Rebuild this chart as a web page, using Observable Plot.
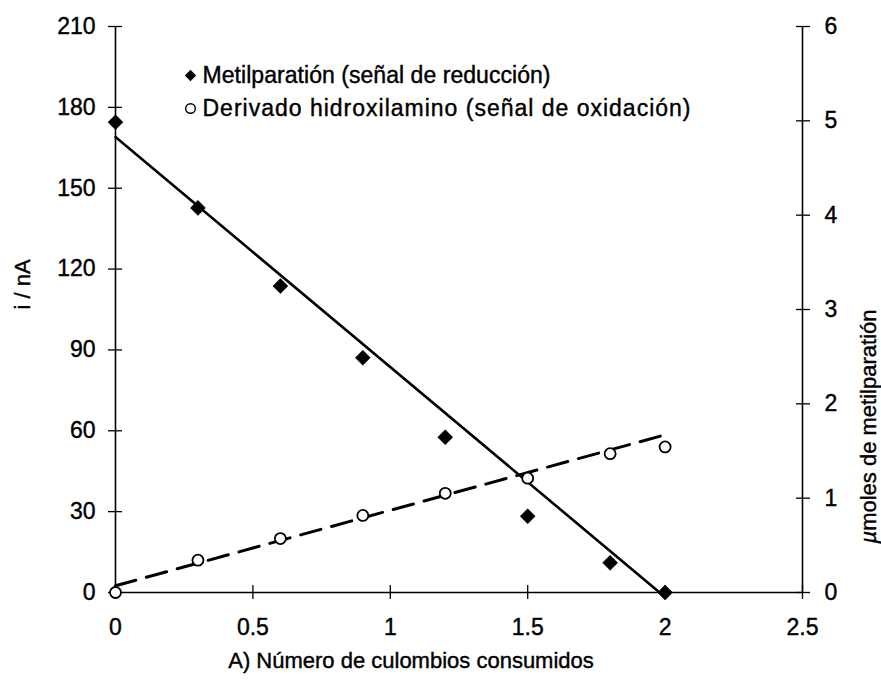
<!DOCTYPE html>
<html><head><meta charset="utf-8">
<script src="https://cdn.jsdelivr.net/npm/d3@7"></script>
<script src="https://cdn.jsdelivr.net/npm/@observablehq/plot@0.6"></script>
<style>html,body{margin:0;padding:0;background:#fff} svg text{stroke:#000;stroke-width:0.4px}</style>
</head><body><div id="chart"></div>
<script>
// Data
const coulombs = [0, 0.3, 0.6, 0.9, 1.2, 1.5, 1.8, 2.0];
const reductionSignal = [174.5, 142.7, 113.7, 87.1, 57.6, 28.3, 11, 0];
const oxidationSignal = [0, 12, 20, 28.6, 36.8, 42.4, 51.5, 54];
const reductionFitX = [0, 1.98];
const reductionFitY = [169, 0];
const oxidationFitX = [0, 2.0];
const oxidationFitY = [2.5, 58.5];
const xTicks = [0, 0.5, 1, 1.5, 2, 2.5];
const yTicks = [0, 30, 60, 90, 120, 150, 180, 210];
const rightTicks = [0, 1, 2, 3, 4, 5, 6];
const nAPerMicromole = 35;
const legendLabels = ["Metilparatión (señal de reducción)", "Derivado hidroxilamino (señal de oxidación)"];
const xTitle = "A) Número de culombios consumidos";
const yTitle = "i / nA";
const rightTitle = "µmoles de metilparatión";

const reduction = coulombs.map((x, i) => ({x, y: reductionSignal[i]}));
const oxidation = coulombs.map((x, i) => ({x, y: oxidationSignal[i]}));
const redFit = reductionFitX.map((x, i) => ({x, y: reductionFitY[i]}));
const oxFit = oxidationFitX.map((x, i) => ({x, y: oxidationFitY[i]}));
const rightTicksNA = rightTicks.map(d => d * nAPerMicromole);

const font = "'Liberation Sans', Arial, sans-serif";
const tickStyle = {label: null, text: null, tickSize: 7, strokeWidth: 1.3};

const chart = Plot.plot({
  width: 881,
  height: 688,
  marginLeft: 115,
  marginRight: 79,
  marginTop: 26,
  marginBottom: 96,
  style: {fontFamily: font, fontSize: "23px", background: "white", color: "black", overflow: "visible"},
  x: {domain: [0, 2.5]},
  y: {domain: [0, 210]},
  marks: [
    // axis lines
    Plot.ruleX([0], {y1: 0, y2: 210, stroke: "black", strokeWidth: 1.6}),
    Plot.ruleX([2.5], {y1: 0, y2: 210, stroke: "black", strokeWidth: 1.6}),
    Plot.ruleY([0], {x1: 0, x2: 2.5, stroke: "black", strokeWidth: 1.6}),
    // crossing ticks: outward + inward halves
    Plot.axisY(yTicks, {anchor: "left", ...tickStyle}),
    Plot.axisY(yTicks, {anchor: "left", ...tickStyle, dx: 7}),
    Plot.axisY(rightTicksNA, {anchor: "right", ...tickStyle}),
    Plot.axisY(rightTicksNA, {anchor: "right", ...tickStyle, dx: -7}),
    Plot.axisX(xTicks, {anchor: "bottom", ...tickStyle}),
    Plot.axisX(xTicks, {anchor: "bottom", ...tickStyle, dy: -7}),
    // tick labels
    Plot.axisY(yTicks, {anchor: "left", tickSize: 0, tickPadding: 20, label: null, fontSize: 23}),
    Plot.axisY(rightTicksNA, {anchor: "right", tickSize: 0, tickPadding: 22, label: null, tickFormat: d => d / nAPerMicromole, fontSize: 23}),
    Plot.axisX(xTicks, {anchor: "bottom", tickSize: 0, tickPadding: 26, label: null, tickFormat: d => String(d), fontSize: 23}),
    // fit lines
    Plot.line(redFit, {x: "x", y: "y", stroke: "black", strokeWidth: 2.6}),
    Plot.line(oxFit, {x: "x", y: "y", stroke: "black", strokeWidth: 3, strokeDasharray: "21,11"}),
    // points
    Plot.dot(oxidation, {x: "x", y: "y", r: 5.5, stroke: "black", strokeWidth: 1.8, fill: "white"}),
    Plot.dot(reduction, {x: "x", y: "y", symbol: "square", rotate: 45, r: 6, fill: "black", stroke: "black", strokeWidth: 0.5}),
    // legend
    Plot.dot([legendLabels[0]], {frameAnchor: "top-left", dx: 75, dy: 49, symbol: "square", rotate: 45, r: 4.5, fill: "black"}),
    Plot.dot([legendLabels[1]], {frameAnchor: "top-left", dx: 75, dy: 82, r: 4.8, stroke: "black", strokeWidth: 1.4, fill: "white"}),
    Plot.text([legendLabels[0]], {text: d => d, frameAnchor: "top-left", dx: 87, dy: 49, textAnchor: "start", lineAnchor: "middle", fontSize: 23}),
    Plot.text([legendLabels[1]], {text: d => d, frameAnchor: "top-left", dx: 87, dy: 82, textAnchor: "start", lineAnchor: "middle", fontSize: 23}),
    // titles
    Plot.text([xTitle], {text: d => d, frameAnchor: "bottom", dx: -48, dy: 68, lineAnchor: "middle", fontSize: 22}),
    Plot.text([yTitle], {text: d => d, frameAnchor: "left", dx: -93, rotate: -90, lineAnchor: "middle", fontSize: 22}),
    Plot.text([rightTitle], {text: d => d, frameAnchor: "right", dx: 66, rotate: -90, lineAnchor: "middle", fontSize: 22})
  ]
});

const svg = d3.select(chart);
svg.selectAll("text").filter(function() { return this.textContent === rightTitle; }).each(function() {
  const t = d3.select(this);
  t.text("");
  t.append("tspan").attr("font-style", "italic").text("µ");
  t.append("tspan").text(rightTitle.slice(1));
});
// stretch legend lines to the widths measured in the reference
const legendWidths = [348, 488];
legendLabels.forEach((lab, i) => {
  svg.selectAll("text").filter(function() { return this.textContent === lab; })
    .attr("textLength", legendWidths[i]).attr("lengthAdjust", "spacing");
});

document.getElementById("chart").appendChild(chart);
</script>
</body></html>
